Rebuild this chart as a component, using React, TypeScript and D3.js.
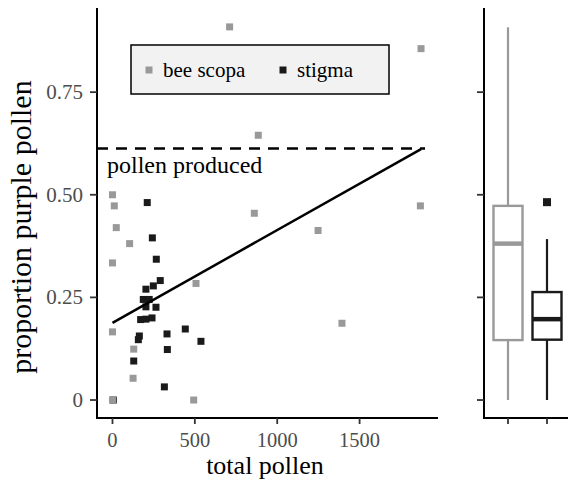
import React from "react";
import * as d3 from "d3";

// ---- data ----
const scopaX = [0, 11, 23, 104, 0, 0, 129, 125, 0, 493, 507, 861, 711, 885, 1873, 1869, 1248, 1393];
const scopaY = [0.5, 0.473, 0.42, 0.381, 0.334, 0.166, 0.124, 0.053, 0, 0, 0.284, 0.455, 0.909, 0.645, 0.856, 0.473, 0.413, 0.187];
const stigmaX = [211, 242, 266, 290, 203, 248, 187, 223, 203, 264, 171, 203, 240, 163, 157, 331, 333, 442, 537, 129, 315, 5];
const stigmaY = [0.481, 0.395, 0.343, 0.291, 0.27, 0.278, 0.245, 0.245, 0.227, 0.226, 0.196, 0.197, 0.2, 0.156, 0.147, 0.161, 0.123, 0.173, 0.143, 0.095, 0.032, 0];

const xTicks = [0, 500, 1000, 1500];
const yTicks = [0, 0.25, 0.5, 0.75];
const yTickLabels = ["0", "0.25", "0.50", "0.75"];

const producedLevel = 0.613;
const regIntercept = 0.188;
const regSlope = 0.000226;

const boxGroups = ["bee scopa", "stigma"];
const boxLower = [0, 0];
const boxQ1 = [0.146, 0.147];
const boxMedian = [0.381, 0.197];
const boxQ3 = [0.473, 0.263];
const boxUpper = [0.908, 0.392];
const boxOutliers = [[], [0.482]];

const GREY = "#999999";
const BLACK = "#1a1a1a";
const groupColors = [GREY, BLACK];
const FONT = "'Liberation Serif', 'Times New Roman', serif";

export default function App() {
  const panelTop = 8;
  const panelBottom = 418;
  const x = d3.scaleLinear().domain([-94, 1976]).range([97, 438]);
  const y = d3.scaleLinear().domain([-0.0438, 0.955]).range([panelBottom, panelTop]);
  const bx = d3.scalePoint<string>().domain(boxGroups).range([508, 547]);
  const boxW = 29;
  const pt = 7;

  const allX = scopaX.concat(stigmaX);
  const xMin = d3.min(allX) as number;
  const xMax = d3.max(allX) as number;
  const regLine = d3.line<number>()
    .x((v) => x(v))
    .y((v) => y(regIntercept + regSlope * v));

  const bxLeft = 484;

  return (
    <svg width={568} height={483} style={{ position: "absolute", left: 0, top: 0, background: "#fff" }} fontFamily={FONT}>
      {/* dashed pollen produced line */}
      <line x1={x(-94)} x2={x(xMax) + 4} y1={y(producedLevel)} y2={y(producedLevel)} stroke="#000" strokeWidth={2.5} strokeDasharray="11 8" />
      <text x={107} y={173} fontSize={24} fill="#000">pollen produced</text>

      {/* points */}
      {stigmaX.map((v, i) => (
        <rect key={"s" + i} x={x(v) - pt / 2} y={y(stigmaY[i]) - pt / 2} width={pt} height={pt} fill={BLACK} />
      ))}
      {scopaX.map((v, i) => (
        <rect key={"b" + i} x={x(v) - pt / 2} y={y(scopaY[i]) - pt / 2} width={pt} height={pt} fill={GREY} />
      ))}

      {/* regression */}
      <path d={regLine([xMin, xMax]) || ""} stroke="#000" strokeWidth={2.5} fill="none" />

      {/* legend */}
      <rect x={131} y={45} width={258} height={49} fill="#f2f2f2" stroke="#000" strokeWidth={1.5} />
      <rect x={149 - 3.5} y={70 - 3.5} width={7} height={7} fill={GREY} />
      <text x={163} y={77} fontSize={21} fill="#000">bee scopa</text>
      <rect x={283 - 3.5} y={70 - 3.5} width={7} height={7} fill={BLACK} />
      <text x={297} y={77} fontSize={21} fill="#000">stigma</text>

      {/* main axes */}
      <line x1={97} x2={97} y1={panelTop} y2={panelBottom + 1} stroke="#000" strokeWidth={2} />
      <line x1={96} x2={438} y1={panelBottom} y2={panelBottom} stroke="#000" strokeWidth={2} />
      {yTicks.map((t, i) => (
        <g key={"yt" + i}>
          <line x1={90} x2={97} y1={y(t)} y2={y(t)} stroke="#333" strokeWidth={1.8} />
          <text x={83} y={y(t) + 7} fontSize={21} textAnchor="end" fill="#4d4d4d">{yTickLabels[i]}</text>
        </g>
      ))}
      {xTicks.map((t, i) => (
        <g key={"xt" + i}>
          <line x1={x(t)} x2={x(t)} y1={panelBottom} y2={panelBottom + 6} stroke="#333" strokeWidth={1.8} />
          <text x={x(t)} y={447} fontSize={20.5} textAnchor="middle" fill="#4d4d4d">{t}</text>
        </g>
      ))}
      <text x={265} y={474} fontSize={26} textAnchor="middle" fill="#000">total pollen</text>
      <text transform={`translate(31, 227) rotate(-90)`} fontSize={30} textAnchor="middle" fill="#000">proportion purple pollen</text>

      {/* boxplot panel */}
      {boxGroups.map((g, i) => {
        const cx = bx(g) as number;
        const c = groupColors[i];
        return (
          <g key={"box" + i}>
            <line x1={cx} x2={cx} y1={y(boxUpper[i])} y2={y(boxQ3[i])} stroke={c} strokeWidth={2.2} />
            <line x1={cx} x2={cx} y1={y(boxQ1[i])} y2={y(boxLower[i])} stroke={c} strokeWidth={2.2} />
            <rect x={cx - boxW / 2} y={y(boxQ3[i])} width={boxW} height={y(boxQ1[i]) - y(boxQ3[i])} fill="#fff" stroke={c} strokeWidth={2.4} />
            <line x1={cx - boxW / 2} x2={cx + boxW / 2} y1={y(boxMedian[i])} y2={y(boxMedian[i])} stroke={c} strokeWidth={4.5} />
            {boxOutliers[i].map((o, j) => (
              <rect key={j} x={cx - 4} y={y(o) - 4} width={8} height={8} fill={c} />
            ))}
          </g>
        );
      })}
      <line x1={bxLeft} x2={bxLeft} y1={panelTop} y2={panelBottom + 1} stroke="#000" strokeWidth={2} />
      <line x1={bxLeft - 1} x2={568} y1={panelBottom} y2={panelBottom} stroke="#000" strokeWidth={2} />
      {yTicks.map((t, i) => (
        <line key={"byt" + i} x1={bxLeft - 7} x2={bxLeft} y1={y(t)} y2={y(t)} stroke="#333" strokeWidth={1.8} />
      ))}
      {boxGroups.map((g, i) => (
        <line key={"bxt" + i} x1={bx(g) as number} x2={bx(g) as number} y1={panelBottom} y2={panelBottom + 6} stroke="#333" strokeWidth={1.8} />
      ))}
    </svg>
  );
}
